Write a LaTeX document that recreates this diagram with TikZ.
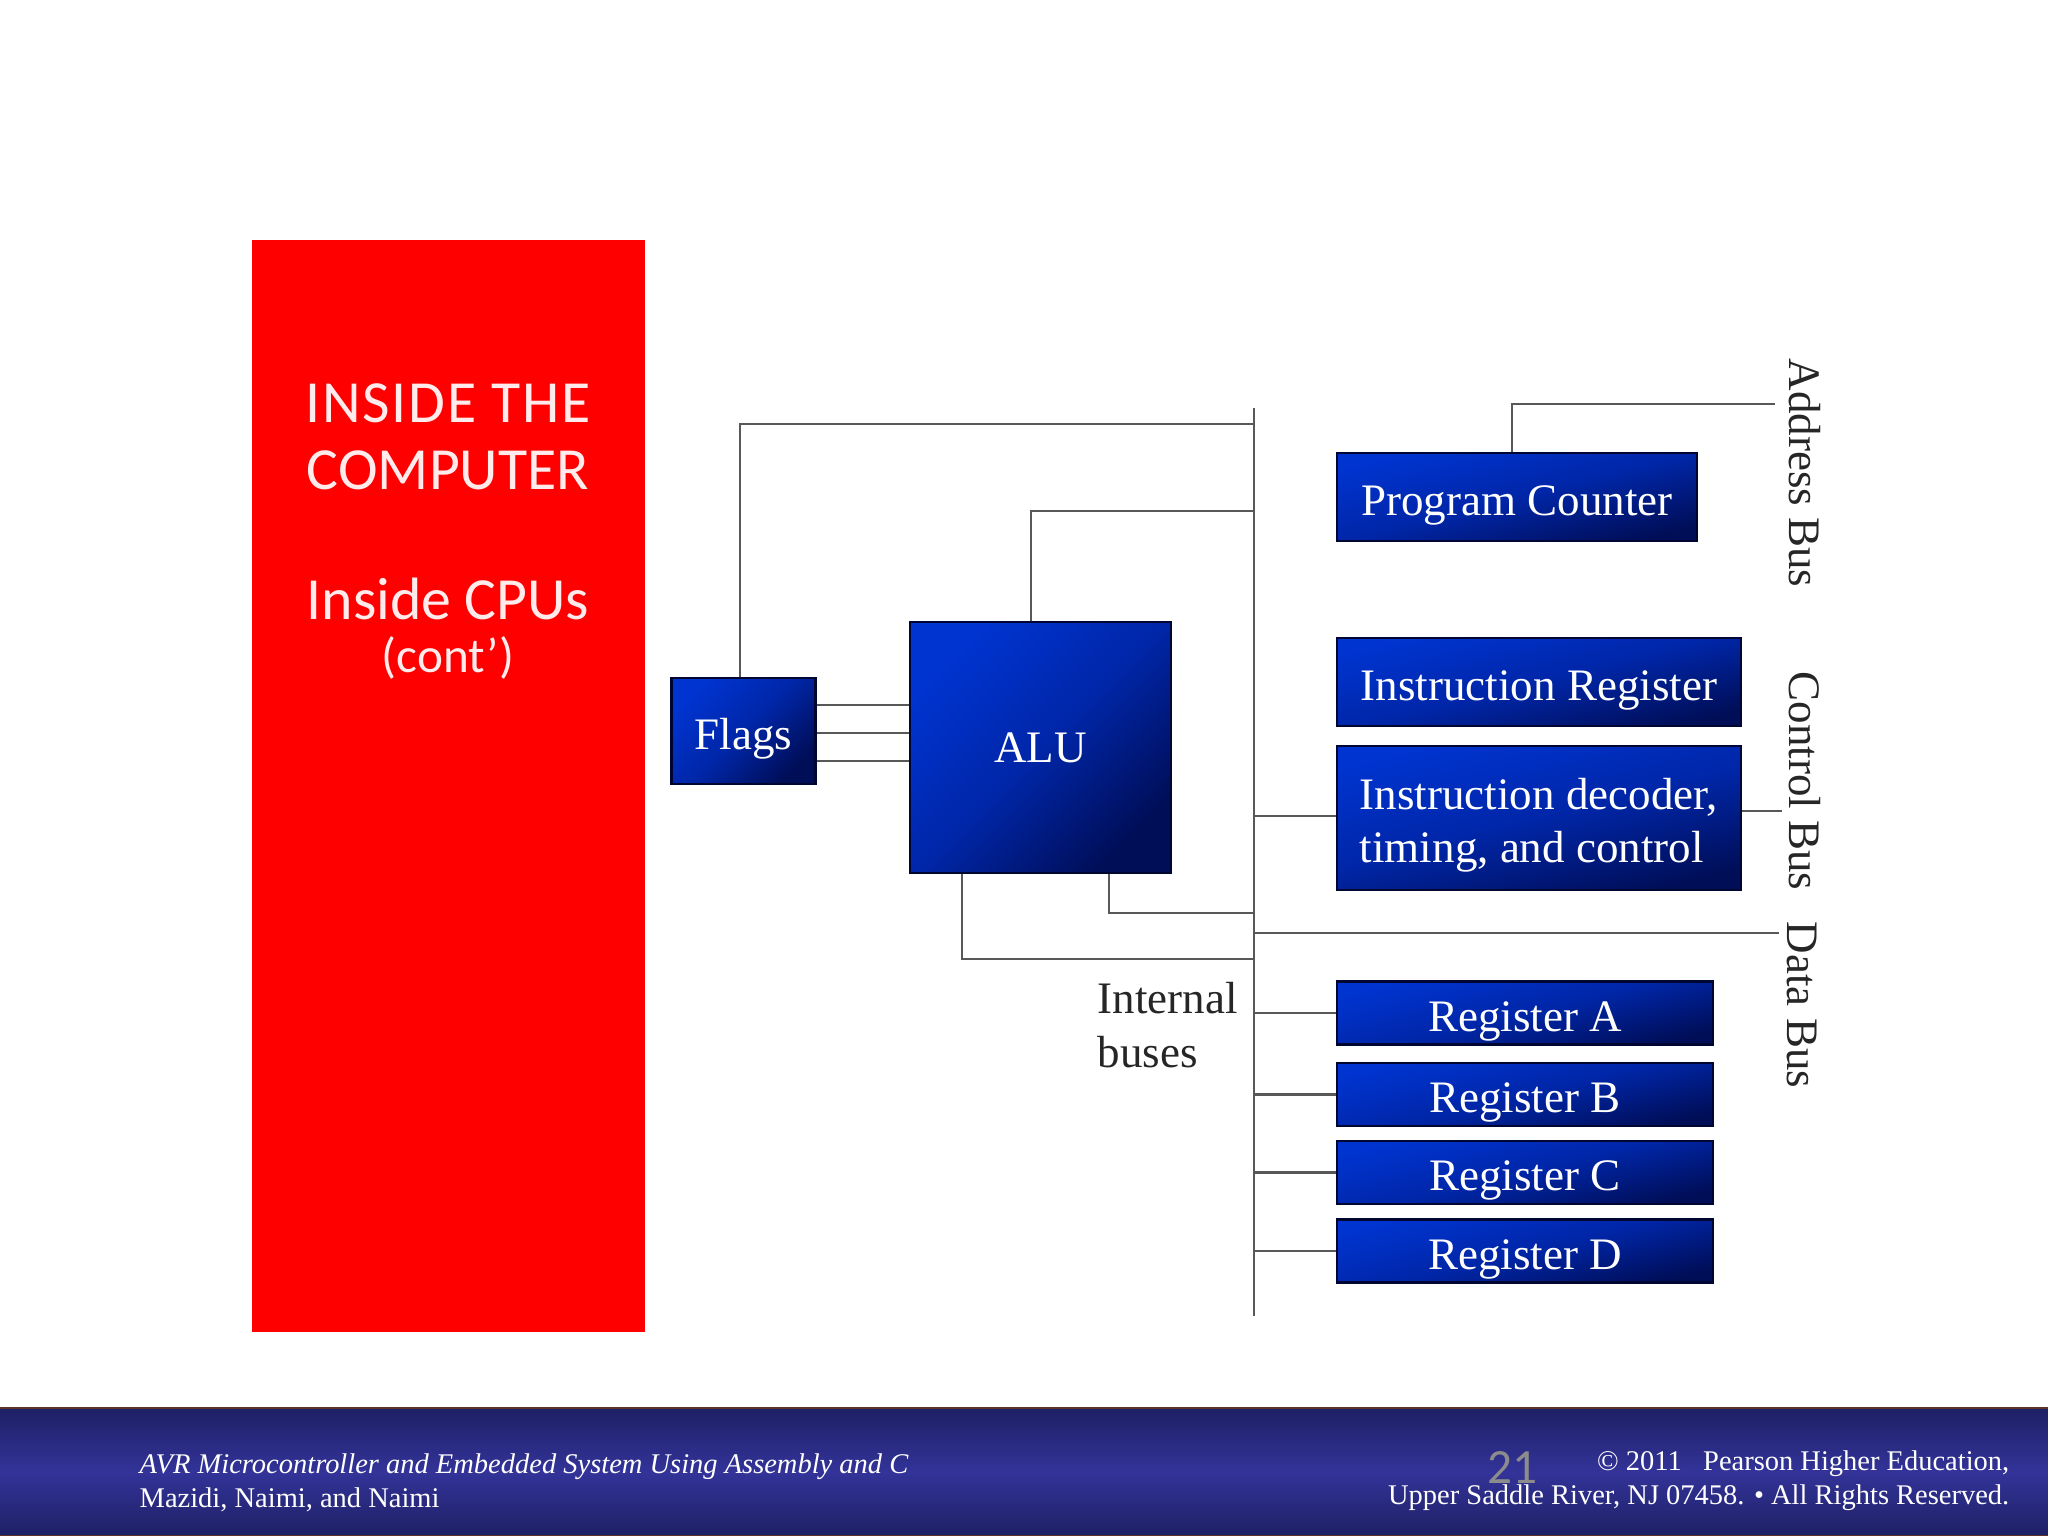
\documentclass[tikz,border=0pt]{standalone}
\usepackage{fontspec}
\setmainfont{Liberation Serif}
\newfontfamily\calibrifont{Carlito}
\definecolor{boxbright}{RGB}{0,52,208}
\definecolor{boxmid}{RGB}{0,38,168}
\definecolor{boxdark}{RGB}{0,14,88}
\definecolor{boxedge}{RGB}{0,6,50}
\definecolor{buscolor}{RGB}{88,88,88}
\definecolor{footdark}{RGB}{30,32,100}
\definecolor{footmid}{RGB}{51,51,153}
\definecolor{footedge}{RGB}{90,50,40}
\tikzset{busline/.style={draw=buscolor,line width=0.75pt}}
\tikzset{bluebox/.style={draw=boxedge,line width=0.6pt,inner sep=0pt,top color=boxbright,bottom color=boxdark,middle color=boxmid,shading angle=14,text=white,text height=0.36cm,text depth=0pt,font=\fontsize{12.8}{15.2}\selectfont}}
\tikzset{buslabel/.style={rotate=-90,text=black!85,inner sep=0pt,font=\fontsize{12.8}{15.2}\selectfont}}
\tikzset{redtext/.style={text=white!92!red,align=center,inner sep=0pt,font=\calibrifont\fontsize{17}{19}\selectfont}}
\tikzset{foottext/.style={text=white,inner sep=0pt,font=\fontsize{8.1}{9.6}\selectfont}}
\begin{document}
\begin{tikzpicture}[x=0.01cm,y=-0.01cm]
\useasboundingbox (0,0) rectangle (2048,1536);
\fill[white] (0,0) rectangle (2048,1536);
\node[fill=red,inner sep=0pt,minimum width=3.93cm,minimum height=10.92cm] (side) at (448.5,786) {};
\node[redtext] (title) at (448,437) {\addfontfeature{LetterSpace=3}INSIDE THE\\COMPUTER};
\node[redtext] (cpus) at (448,599) {Inside CPUs};
\node[redtext,font=\calibrifont\fontsize{14}{16}\selectfont] (cont) at (448,658) {(cont’)};

\node[bluebox,shading angle=45,minimum width=1.44cm,minimum height=1.06cm] (flags) at (743.5,731) {Flags};
\node[bluebox,shading angle=45,text height=0.30cm,minimum width=2.60cm,minimum height=2.50cm] (alu) at (1040.5,747.5) {ALU};
\node[bluebox,minimum width=3.59cm,minimum height=0.88cm] (pc) at (1517,497) {Program Counter};
\node[bluebox,minimum width=4.03cm,minimum height=0.88cm] (ir) at (1539,682) {Instruction Register};
\node[bluebox,minimum width=4.03cm,minimum height=1.44cm] (dec) at (1539,818) {};
\node[text=white,align=left,inner sep=0pt,font=\fontsize{12.8}{15.2}\selectfont] (dectext) at (1539,825) {Instruction decoder,\\timing, and control};
\node[bluebox,minimum width=3.75cm,minimum height=0.63cm] (rega) at (1525,1013) {Register A};
\node[bluebox,minimum width=3.75cm,minimum height=0.63cm] (regb) at (1525,1094.5) {Register B};
\node[bluebox,minimum width=3.75cm,minimum height=0.63cm] (regc) at (1525,1172.5) {Register C};
\node[bluebox,minimum width=3.75cm,minimum height=0.63cm] (regd) at (1525,1251) {Register D};

\node[buslabel] (addrbus) at (1805,473) {Address Bus};
\node[buslabel] (ctrlbus) at (1805,781) {Control Bus};
\node[buslabel] (databus) at (1802,1005) {Data Bus};
\node[anchor=west,align=left,text=black!85,inner sep=0pt,font=\fontsize{12.8}{15.2}\selectfont] (internal) at (1097,1025) {Internal\\buses};

\coordinate (bustop) at (1254,408);
\coordinate (busbot) at (1254,1316);
\coordinate (addrend) at (1775,404);
\coordinate (ctrlend) at (1782,811);
\coordinate (dataend) at (1779,933);
\draw[busline] (bustop) -- (busbot);
\draw[busline] (flags.east |- 0,705) -- (alu.west |- 0,705);
\draw[busline] (flags.east |- 0,733) -- (alu.west |- 0,733);
\draw[busline] (flags.east |- 0,761) -- (alu.west |- 0,761);
\draw[busline] (flags.north -| 740,0) -- (740,424) -- (bustop |- 0,424);
\draw[busline] (alu.north -| 1031,0) -- (1031,511) -- (bustop |- 0,511);
\draw[busline] (alu.south -| 1109,0) -- (1109,913) -- (bustop |- 0,913);
\draw[busline] (alu.south -| 962,0) -- (962,959) -- (bustop |- 0,959);
\draw[busline] (pc.north -| 1512,0) -- (1512,404) -- (addrend);
\draw[busline] (bustop |- 0,816) -- (dec.west |- 0,816);
\draw[busline] (dec.east |- ctrlend) -- (ctrlend);
\draw[busline] (bustop |- dataend) -- (dataend);
\draw[busline] (bustop |- rega) -- (rega.west);
\draw[busline] (bustop |- regb) -- (regb.west);
\draw[busline] (bustop |- regc) -- (regc.west);
\draw[busline] (bustop |- regd) -- (regd.west);

\node[draw=footedge,line width=0.6pt,inner sep=0pt,top color=footdark,bottom color=footdark,middle color=footmid,minimum width=20.48cm,minimum height=1.28cm] (footer) at (1024,1472) {};
\node[text=black!45,inner sep=0pt,font=\calibrifont\fontsize{14}{16}\selectfont] (pagenum) at (1512,1468) {21};
\node[foottext,anchor=west,align=left] (bookline) at (139,1483) {\textit{AVR Microcontroller and Embedded System Using Assembly and C}\\Mazidi, Naimi, and Naimi};
\node[foottext,anchor=east,align=right] (rights) at (2010,1481) {© 2011~~~Pearson Higher Education,\\Upper Saddle River, NJ 07458. • All Rights Reserved.};
\end{tikzpicture}
\end{document}
